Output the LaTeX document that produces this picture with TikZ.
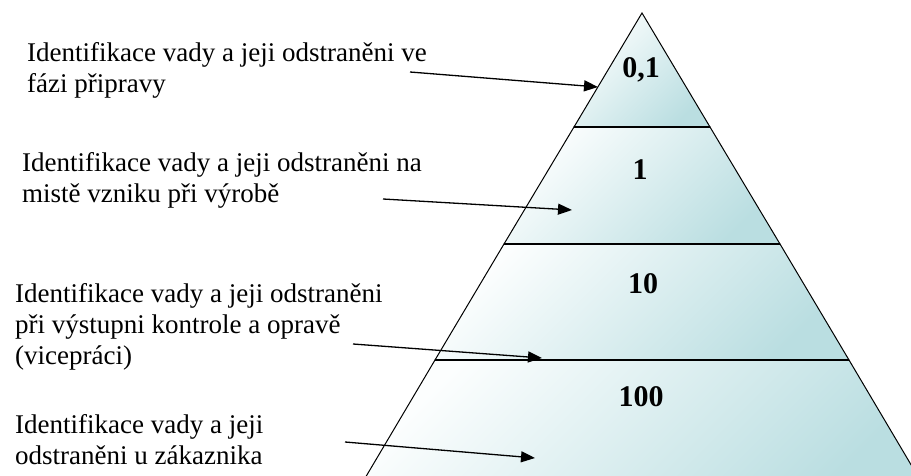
\documentclass[tikz,border=0pt]{standalone}
\usepackage{fontspec}
\setmainfont{Liberation Serif}
\usetikzlibrary{arrows.meta}
\definecolor{tealend}{RGB}{186,222,225}
\definecolor{tealstart}{RGB}{252,254,254}
\tikzset{
  band/.style={top color=tealstart, bottom color=tealend, shading angle=45, draw=black, line width=1pt},
  divider/.style={draw=black, line width=1.4pt},
  lbl/.style={anchor=base west, inner sep=0pt, font=\fontsize{27}{31}\selectfont},
  num/.style={anchor=base, inner sep=0pt, font=\fontsize{30}{34}\selectfont\bfseries},
  arr/.style={-{Triangle[length=14pt,width=11pt]}, line width=1.3pt},
}
\begin{document}
\begin{tikzpicture}[x=1pt,y=-1pt]
\useasboundingbox (0,0) rectangle (911,476);
% pyramid corners
\coordinate (apex) at (642,13);
\coordinate (l1) at (574,127); \coordinate (r1) at (710,127);
\coordinate (l2) at (504,244); \coordinate (r2) at (780,244);
\coordinate (l3) at (435,360); \coordinate (r3) at (849,360);
\coordinate (l4) at (358,490); \coordinate (r4) at (926,490);
\begin{scope}
  \clip (0,0) rectangle (911,476);
  \shadedraw[band] (apex) -- (l1) -- (r1) -- cycle;
  \shadedraw[band] (l1) -- (l2) -- (r2) -- (r1) -- cycle;
  \shadedraw[band] (l2) -- (l3) -- (r3) -- (r2) -- cycle;
  \shadedraw[band] (l3) -- (l4) -- (r4) -- (r3) -- cycle;
  \draw[divider] (l1) -- (r1);
  \draw[divider] (l2) -- (r2);
  \draw[divider] (l3) -- (r3);
\end{scope}
% numbers
\node[num] (n1) at (641,78) {0,1};
\node[num] (n2) at (640,180) {1};
\node[num] (n3) at (643,293) {10};
\node[num] (n4) at (641,406) {100};
% labels
\node[lbl] (t1) at (27,62) {\begin{tabular}[t]{@{}l@{}}Identifikace vady a jeji odstraněni ve\\ fázi připravy\end{tabular}};
\node[lbl] (t2) at (22,172) {\begin{tabular}[t]{@{}l@{}}Identifikace vady a jeji odstraněni na\\ mistě vzniku při výrobě\end{tabular}};
\node[lbl] (t3) at (15,302) {\begin{tabular}[t]{@{}l@{}}Identifikace vady a jeji odstraněni\\ při výstupni kontrole a opravě\\ (vicepráci)\end{tabular}};
\node[lbl] (t4) at (15,433) {\begin{tabular}[t]{@{}l@{}}Identifikace vady a jeji\\ odstraněni u zákaznika\end{tabular}};
% arrows
\coordinate (s1) at (410,72); \coordinate (e1) at (598,87);
\coordinate (s2) at (383,199); \coordinate (e2) at (572,210);
\coordinate (s3) at (353,344); \coordinate (e3) at (542,358);
\coordinate (s4) at (345,442); \coordinate (e4) at (535,458);
\draw[arr] (s1) -- (e1);
\draw[arr] (s2) -- (e2);
\draw[arr] (s3) -- (e3);
\draw[arr] (s4) -- (e4);
\end{tikzpicture}
\end{document}
